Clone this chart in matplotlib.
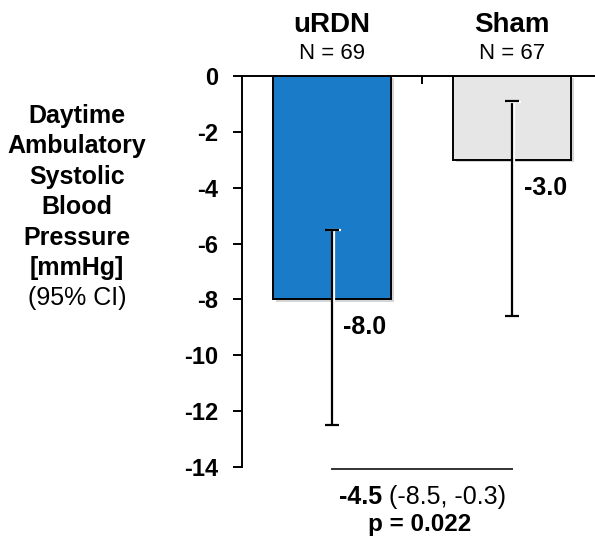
import numpy as np
import matplotlib.pyplot as plt
from matplotlib import patheffects as pe
from matplotlib.transforms import blended_transform_factory

plt.rcParams['font.family'] = ['Liberation Sans', 'DejaVu Sans']

# Change from baseline, daytime ambulatory SBP
groups = ['uRDN', 'Sham']
n_labels = ['N = 69', 'N = 67']
means = [-8.0, -3.0]
ci_low = [-12.5, -8.6]
ci_high = [-5.5, -0.9]
colors = ['#1a7cc8', '#e6e6e6']
yticks = [0, -2, -4, -6, -8, -10, -12, -14]

diff_text = '-4.5'
diff_ci_text = ' (-8.5, -0.3)'
p_text = 'p = 0.022'

ylabel_lines = ['Daytime', 'Ambulatory', 'Systolic', 'Blood', 'Pressure', '[mmHg]']
ylabel_note = '(95% CI)'

W, H = 595, 537
fig = plt.figure(figsize=(W / 100, H / 100), dpi=100)
ax = fig.add_axes([242 / W, 1 - 467.3 / H, (W - 242) / W, (467.3 - 75.7) / H])

x = np.arange(len(groups))
shadow = [pe.SimplePatchShadow(offset=(2, -2), shadow_rgbFace='#888888', alpha=0.35), pe.Normal()]
bars = ax.bar(x, means, width=0.652, color=colors, edgecolor='black', linewidth=1.4)
for b in bars:
    b.set_path_effects(shadow)

yerr = np.array([np.array(means) - np.array(ci_low), np.array(ci_high) - np.array(means)])
eb = ax.errorbar(x, means, yerr=yerr, fmt='none', ecolor='black', elinewidth=1.6,
                 capsize=5, capthick=1.6, zorder=3)
line_fx = [pe.SimpleLineShadow(offset=(1.3, -0.6), shadow_color='white', alpha=1), pe.Normal()]
for part in eb.lines[1] + eb.lines[2]:
    part.set_path_effects(line_fx)

for xi, m in zip(x, means):
    ax.text(xi + 0.183, m - 1.0, f'{m:.1f}', ha='center', va='center',
            fontsize=18, fontweight='bold')

ax.set_xlim(-0.5, 1.46)
ax.set_ylim(-14, 0)
ax.set_yticks(yticks)
ax.set_yticklabels([str(t) for t in yticks], fontsize=17, fontweight='bold')
ax.tick_params(axis='y', direction='out', length=6.5, width=1.4, pad=10.5)

ax.xaxis.tick_top()
ax.set_xticks([0.5])
ax.set_xticklabels([])
ax.tick_params(axis='x', direction='in', length=6, width=1.4)

for s in ['right', 'bottom']:
    ax.spines[s].set_visible(False)
for s in ['left', 'top']:
    ax.spines[s].set_linewidth(1.4)

# group headers above the plot
tr = blended_transform_factory(ax.transData, fig.transFigure)
for xi, g, n in zip(x, groups, n_labels):
    ax.text(xi, 1 - 25 / H, g, transform=tr, ha='center', va='center',
            fontsize=20, fontweight='bold')
    ax.text(xi, 1 - 53 / H, n, transform=tr, ha='center', va='center', fontsize=16)

# difference between groups below the axis
ax.plot([0, 1], [-14.07, -14.07], color='#333333', lw=1.4, clip_on=False)
ax.text(0.278, -15.05, diff_text, ha='right', va='center', fontsize=18, fontweight='bold', clip_on=False)
ax.text(0.278, -15.05, diff_ci_text, ha='left', va='center', fontsize=18, clip_on=False)
ax.text(0.485, -16.05, p_text, ha='center', va='center', fontsize=17.5, fontweight='bold', clip_on=False)

# y axis title
for i, line in enumerate(ylabel_lines):
    fig.text(77 / W, 1 - (116 + i * 30.4) / H, line, ha='center', va='center',
             fontsize=18, fontweight='bold')
fig.text(77 / W, 1 - (116 + len(ylabel_lines) * 30.4) / H, ylabel_note,
         ha='center', va='center', fontsize=18)

fig.savefig('out.png', dpi=100)
